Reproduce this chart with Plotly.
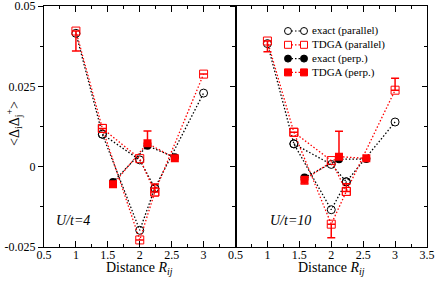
import math
import plotly.graph_objects as go

SQ2 = math.sqrt(2.0)
SQ5 = math.sqrt(5.0)

# Parallel distances (order: 1, sqrt2, 2 (upper), 2 (lower), sqrt5, 3)
R_par = [1.0, SQ2, 2.0, 2.0, SQ5, 3.0]
# Perpendicular distances
R_perp = [math.sqrt(2.5), math.sqrt(4.5), math.sqrt(6.5)]

# U/t = 4
u4_exact_par = [0.0415, 0.0101, 0.0021, -0.0198, -0.0067, 0.0229]
u4_tdga_par = [0.0422, 0.0119, 0.0025, -0.0228, -0.0079, 0.0288]
u4_tdga_par_err_plus = [0.0, 0.0, 0.0, 0.0, 0.0025, 0.0]
u4_tdga_par_err_minus = [0.0062, 0.0, 0.0, 0.0, 0.0, 0.0]
u4_exact_perp = [-0.0048, 0.0065, 0.0029]
u4_tdga_perp = [-0.0055, 0.0073, 0.0026]
u4_tdga_perp_err_plus = [0.0, 0.0038, 0.0]
u4_tdga_perp_err_minus = [0.0, 0.0, 0.0]

# U/t = 10
u10_exact_par = [0.0383, 0.0071, 0.0007, -0.0134, -0.0047, 0.0139]
u10_tdga_par = [0.0391, 0.0107, 0.0019, -0.0179, -0.0077, 0.0238]
u10_tdga_par_err_plus = [0.0, 0.0, 0.0, 0.0, 0.0024, 0.0037]
u10_tdga_par_err_minus = [0.0033, 0.0, 0.0, 0.0042, 0.0, 0.0]
u10_exact_perp = [-0.0034, 0.0023, 0.0024]
u10_tdga_perp = [-0.0041, 0.0031, 0.0026]
u10_tdga_perp_err_plus = [0.0, 0.0079, 0.0]
u10_tdga_perp_err_minus = [0.0013, 0.0, 0.0]

# connection paths through the parallel points
PATH_MAIN = [0, 1, 3, 4, 5]
PATH_SIDE = [1, 2, 4]

x_ticks_left = [0.5, 1, 1.5, 2, 2.5, 3]
x_ticks_right = [0.5, 1, 1.5, 2, 2.5, 3, 3.5]
y_ticks = [-0.025, 0, 0.025, 0.05]
y_ticktext = ["-0.025", "0", "0.025", "0.05"]

legend_names = ["exact (parallel)", "TDGA (parallel)", "exact (perp.)",
                "TDGA (perp.)"]

FONT = "Liberation Serif, Times New Roman, Times, serif"
RED = "#ff0000"
BLACK = "#000000"
DOT = "1.5px,2px"

# plot area in pixels
W, H = 436, 281
L, R, T, B = 44, 9, 6, 34
PW, PH = W - L - R, H - T - B


def px2x(px):
    return (px - L) / PW


def px2y(py):
    return (H - B - py) / PH


fig = go.Figure()


def pick(arr, idx):
    return [arr[i] for i in idx]


def add_panel(xa, ya, ex_par, td_par, td_par_ep, td_par_em,
              ex_perp, td_perp, td_perp_ep, td_perp_em):
    ln_b = dict(color=BLACK, dash=DOT, width=1.3)
    ln_r = dict(color=RED, dash=DOT, width=1.3)
    mk_oc = dict(symbol="circle-open", size=8, color=BLACK, line=dict(width=1))
    mk_os = dict(symbol="square-open", size=8, color=RED, line=dict(width=1))
    for path in (PATH_MAIN, PATH_SIDE):
        fig.add_trace(go.Scatter(
            x=pick(R_par, path), y=pick(ex_par, path), mode="lines+markers",
            xaxis=xa, yaxis=ya, showlegend=False, line=ln_b, marker=mk_oc))
    fig.add_trace(go.Scatter(
        x=pick(R_par, PATH_MAIN), y=pick(td_par, PATH_MAIN),
        mode="lines+markers", xaxis=xa, yaxis=ya, showlegend=False,
        line=ln_r, marker=mk_os,
        error_y=dict(type="data", symmetric=False,
                     array=pick(td_par_ep, PATH_MAIN),
                     arrayminus=pick(td_par_em, PATH_MAIN),
                     color=RED, thickness=1.5, width=4)))
    fig.add_trace(go.Scatter(
        x=pick(R_par, PATH_SIDE), y=pick(td_par, PATH_SIDE),
        mode="lines+markers", xaxis=xa, yaxis=ya, showlegend=False,
        line=ln_r, marker=mk_os))
    fig.add_trace(go.Scatter(
        x=R_perp, y=ex_perp, mode="lines+markers", xaxis=xa, yaxis=ya,
        showlegend=False, line=ln_b,
        marker=dict(symbol="circle", size=8, color=BLACK)))
    fig.add_trace(go.Scatter(
        x=R_perp, y=td_perp, mode="lines+markers", xaxis=xa, yaxis=ya,
        showlegend=False, line=ln_r,
        marker=dict(symbol="square", size=8, color=RED),
        error_y=dict(type="data", symmetric=False, array=td_perp_ep,
                     arrayminus=td_perp_em, color=RED, thickness=1.5,
                     width=4)))


add_panel("x", "y", u4_exact_par, u4_tdga_par, u4_tdga_par_err_plus,
          u4_tdga_par_err_minus, u4_exact_perp, u4_tdga_perp,
          u4_tdga_perp_err_plus, u4_tdga_perp_err_minus)
add_panel("x2", "y2", u10_exact_par, u10_tdga_par, u10_tdga_par_err_plus,
          u10_tdga_par_err_minus, u10_exact_perp, u10_tdga_perp,
          u10_tdga_perp_err_plus, u10_tdga_perp_err_minus)

YR = [-0.025001, 0.050001]
common_x = dict(range=[0.5, 3.5], showgrid=False, zeroline=False,
                showline=True, linecolor=BLACK, linewidth=1, mirror="ticks",
                ticks="inside", ticklen=6, tickcolor=BLACK, automargin=False,
                ticklabelstandoff=-3, ticklabeloverflow="allow",
                minor=dict(dtick=0.25, tick0=0.5, ticks="inside", ticklen=3,
                           tickcolor=BLACK),
                tickfont=dict(family=FONT, size=12, color=BLACK))
common_y = dict(range=YR, showgrid=False, zeroline=False,
                showline=True, linecolor=BLACK, linewidth=1, automargin=False,
                tickvals=y_ticks, ticktext=y_ticktext,
                ticks="outside", ticklen=5, tickcolor=BLACK,
                ticklabeloverflow="allow",
                minor=dict(dtick=0.0125, tick0=0, ticks="outside", ticklen=3,
                           tickcolor=BLACK),
                tickfont=dict(family=FONT, size=12, color=BLACK))

# custom legend (grace-style: marker, dotted line, marker)
legend_styles = [
    ("circle", BLACK, False),
    ("rect", RED, False),
    ("circle", BLACK, True),
    ("rect", RED, True),
]
shapes = []
annotations = []
for i, (name, (kind, col, filled)) in enumerate(zip(legend_names,
                                                     legend_styles)):
    py = 31 + 13.8 * i
    yy = px2y(py)
    xa_, xb_ = px2x(288), px2x(304)
    shapes.append(dict(type="line", xref="paper", yref="paper", x0=xa_,
                       x1=xb_, y0=yy, y1=yy,
                       line=dict(color=col, dash=DOT, width=1.2)))
    for xc in (xa_, xb_):
        shapes.append(dict(type=kind, xref="paper", yref="paper",
                           xsizemode="pixel", ysizemode="pixel",
                           xanchor=xc, yanchor=yy, x0=-3.5, x1=3.5,
                           y0=-3.5, y1=3.5,
                           line=dict(color=col, width=1),
                           fillcolor=col if filled else "white"))
    annotations.append(dict(text=name, xref="paper", yref="paper",
                            x=px2x(310), y=yy, xanchor="left",
                            yanchor="middle", showarrow=False,
                            font=dict(family=FONT, size=11, color=BLACK)))

xtitle = "Distance <i>R</i><sub><i>ij</i></sub>"
annotations += [
    dict(text=xtitle, xref="x", yref="paper", x=2.0, y=px2y(268),
         xanchor="center", yanchor="middle", showarrow=False,
         font=dict(family=FONT, size=14, color=BLACK)),
    dict(text=xtitle, xref="x2", yref="paper", x=2.0, y=px2y(268),
         xanchor="center", yanchor="middle", showarrow=False,
         font=dict(family=FONT, size=14, color=BLACK)),
    dict(text="&lt;Δ<sub>i</sub>Δ<sub>j</sub><sup>+</sup>&gt;",
         xref="paper", yref="paper", x=px2x(14), y=px2y(124),
         xanchor="center", yanchor="middle", textangle=-90, showarrow=False,
         font=dict(family=FONT, size=14, color=BLACK)),
    dict(text="<i>U/t=4</i>", xref="paper", yref="paper", x=px2x(54),
         y=px2y(221), xanchor="left", yanchor="middle", showarrow=False,
         font=dict(family=FONT, size=14, color=BLACK)),
    dict(text="<i>U/t=10</i>", xref="paper", yref="paper", x=px2x(268),
         y=px2y(221), xanchor="left", yanchor="middle", showarrow=False,
         font=dict(family=FONT, size=14, color=BLACK)),
]

fig.update_layout(
    width=W, height=H,
    margin=dict(l=L, r=R, t=T, b=B),
    paper_bgcolor="white", plot_bgcolor="white",
    font=dict(family=FONT, size=12, color=BLACK),
    showlegend=False,
    xaxis=dict(domain=[0, 0.5], anchor="y", tickvals=x_ticks_left, **common_x),
    xaxis2=dict(domain=[0.5, 1], anchor="y2", tickvals=x_ticks_right,
                **common_x),
    yaxis=dict(anchor="x", mirror=True, **common_y),
    yaxis2=dict(anchor="x2", matches="y", showticklabels=False, mirror=True,
                **common_y),
    yaxis3=dict(anchor="x2", overlaying="y2", side="right", range=YR,
                showgrid=False, zeroline=False, automargin=False,
                showline=False, showticklabels=False, tickvals=y_ticks,
                ticks="inside", ticklen=5, tickcolor=BLACK,
                minor=dict(dtick=0.0125, tick0=0, ticks="inside", ticklen=3,
                           tickcolor=BLACK)),
    shapes=shapes,
    annotations=annotations,
)

# dummy trace to activate yaxis3
fig.add_trace(go.Scatter(x=[None], y=[None], xaxis="x2", yaxis="y3",
                         showlegend=False, hoverinfo="skip"))

fig.write_html("out.html",
               config={"displayModeBar": False},
               post_script="document.body.style.margin='0';"
                           "document.body.style.padding='0';")
